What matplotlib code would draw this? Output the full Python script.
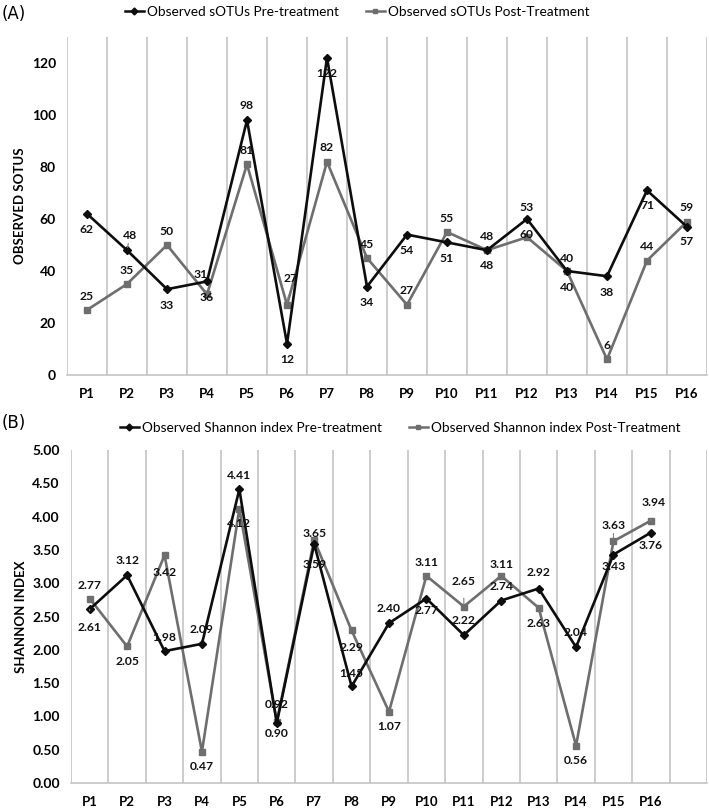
import matplotlib
matplotlib.use("Agg")
import matplotlib.pyplot as plt
from matplotlib.lines import Line2D

plt.rcParams['font.family'] = ['Lato', 'DejaVu Sans']

# ---------------- data ----------------
patients_a = ["P1", "P2", "P3", "P4", "P5", "P6", "P7", "P8", "P9", "P10",
              "P11", "P12", "P13", "P14", "P15", "P16"]
sotus_pre = [62, 48, 33, 36, 98, 12, 122, 34, 54, 51, 48, 60, 40, 38, 71, 57]
sotus_post = [25, 35, 50, 31, 81, 27, 82, 45, 27, 55, 48, 53, 40, 6, 44, 59]
sotus_yticks = [0, 20, 40, 60, 80, 100, 120]

patients_b = patients_a + [""]
shannon_pre = [2.61, 3.12, 1.98, 2.09, 4.41, 0.90, 3.59, 1.45, 2.40, 2.77,
               2.22, 2.74, 2.92, 2.04, 3.43, 3.76]
shannon_post = [2.77, 2.05, 3.42, 0.47, 4.12, 0.92, 3.65, 2.29, 1.07, 3.11,
                2.65, 3.11, 2.63, 0.56, 3.63, 3.94]
shannon_yticks = [0.0, 0.5, 1.0, 1.5, 2.0, 2.5, 3.0, 3.5, 4.0, 4.5, 5.0]

# ---------------- label placement (pixel offsets, style only) ----------------
off_a_pre = [(0, -16), (3, 15), (0, -16), (0, -16), (0, 15), (0, -16), (0, -16), (0, -16),
             (0, -16), (0, -16), (0, -15), (0, -15), (0, -16), (0, -16), (0, -15), (0, -15)]
off_a_post = [(0, 14), (0, 14), (0, 14), (-6, 20), (0, 14), (4, 26), (0, 14), (0, 14),
              (0, 14), (0, 14), (0, 14), (0, 30), (0, 13), (0, 14), (0, 14), (0, 14)]
lead_a_pre = [False, True] + [False] * 14
lead_a_post = [False, False, False, True, False, True] + [False] * 10

off_b_pre = [(0, -18), (0, 15), (0, 14), (0, 14), (0, 14), (0, -10), (0, -21), (0, 13),
             (0, 15), (0, -12), (0, 15), (0, 14), (0, 16), (0, 15), (0, -12), (0, -13)]
off_b_post = [(0, 13), (0, -15), (0, -17), (0, -15), (0, -15), (0, 17), (0, 6), (0, -17),
              (0, -15), (0, 13), (0, 25), (0, 11), (0, -16), (0, -15), (0, 16), (3, 18)]
lead_b_pre = [True] + [False] * 15
lead_b_post = [False] * 10 + [True, False, False, False, True, True]

PRE_C = "#0d0d0d"
POST_C = "#6e6e6e"
GRID_C = "#bfbfbf"

fig = plt.figure(figsize=(7.09, 8.08), dpi=100)

axA = fig.add_axes([67 / 709, 1 - 375 / 808, 640 / 709, 338 / 808])
axB = fig.add_axes([71 / 709, 1 - 783 / 808, 636 / 709, 333 / 808])


def style_axis(ax, cats, ylim, yticks, fmt, ylabel):
    n = len(cats)
    x = list(range(1, n + 1))
    ax.set_xlim(0.5, n + 0.5)
    ax.set_ylim(*ylim)
    ax.set_xticks(x)
    ax.set_xticklabels(cats, fontweight='bold', fontsize=9.5)
    ax.set_xticks([i + 0.5 for i in range(0, n + 1)], minor=True)
    ax.grid(True, which='minor', axis='x', color=GRID_C, linewidth=1.1)
    ax.grid(False, which='major')
    ax.set_yticks(yticks)
    ax.set_yticklabels([fmt.format(v) for v in yticks], fontweight='bold', fontsize=10)
    ax.tick_params(axis='both', which='both', length=0)
    ax.tick_params(axis='x', pad=9)
    ax.tick_params(axis='y', pad=8)
    for s in ['top', 'right', 'left']:
        ax.spines[s].set_visible(False)
    ax.spines['bottom'].set_color(GRID_C)
    ax.spines['bottom'].set_linewidth(1.1)
    ax.set_ylabel(ylabel, fontsize=9.5, fontweight='bold', labelpad=4)
    ax.set_axisbelow(True)


def plot_series(ax, vals, color, marker, msize, offs, leads, fmt, z):
    x = list(range(1, len(vals) + 1))
    ax.plot(x, vals, color=color, linewidth=1.9, marker=marker, markersize=msize,
            markeredgecolor=color, markerfacecolor=color, zorder=z)
    for xi, v, (dx, dy), lead in zip(x, vals, offs, leads):
        kw = {}
        if lead:
            kw['arrowprops'] = dict(arrowstyle='-', color='#808080', lw=0.8,
                                    shrinkA=6, shrinkB=2)
        ax.annotate(fmt.format(v), (xi, v), xytext=(dx, dy), textcoords='offset pixels',
                    ha='center', va='center', fontsize=8.7, fontweight='bold',
                    color='#111111', zorder=5, **kw)


style_axis(axA, patients_a, (0, 130), sotus_yticks, "{:d}", "OBSERVED SOTUS")
plot_series(axA, sotus_post, POST_C, 's', 4.5, off_a_post, lead_a_post, "{:d}", 3)
plot_series(axA, sotus_pre, PRE_C, 'D', 4, off_a_pre, lead_a_pre, "{:d}", 4)

style_axis(axB, patients_b, (0, 5.0), shannon_yticks, "{:.2f}", "SHANNON INDEX")
plot_series(axB, shannon_post, POST_C, 's', 4.5, off_b_post, lead_b_post, "{:.2f}", 3)
plot_series(axB, shannon_pre, PRE_C, 'D', 4, off_b_pre, lead_b_pre, "{:.2f}", 4)

# panel letters
fig.text(2 / 709, 1 - 14 / 808, "(A)", fontsize=12, family='DejaVu Sans', va='center', ha='left')
fig.text(2 / 709, 1 - 423 / 808, "(B)", fontsize=12, family='DejaVu Sans', va='center', ha='left')


def legend(center_x, center_y, labels):
    handles = [Line2D([0], [0], color=PRE_C, lw=1.8, marker='D', markersize=3.5),
               Line2D([0], [0], color=POST_C, lw=1.8, marker='s', markersize=3.5)]
    fig.legend(handles, labels, loc='center', bbox_to_anchor=(center_x / 709, 1 - center_y / 808),
               ncol=2, frameon=False, fontsize=9.8, handlelength=1.4, handletextpad=0.2,
               columnspacing=2.0, borderaxespad=0)


legend(357, 12, ["Observed sOTUs Pre-treatment", "Observed sOTUs Post-Treatment"])
legend(400, 428, ["Observed Shannon index Pre-treatment", "Observed Shannon index Post-Treatment"])

fig.savefig("out.png", dpi=100)
